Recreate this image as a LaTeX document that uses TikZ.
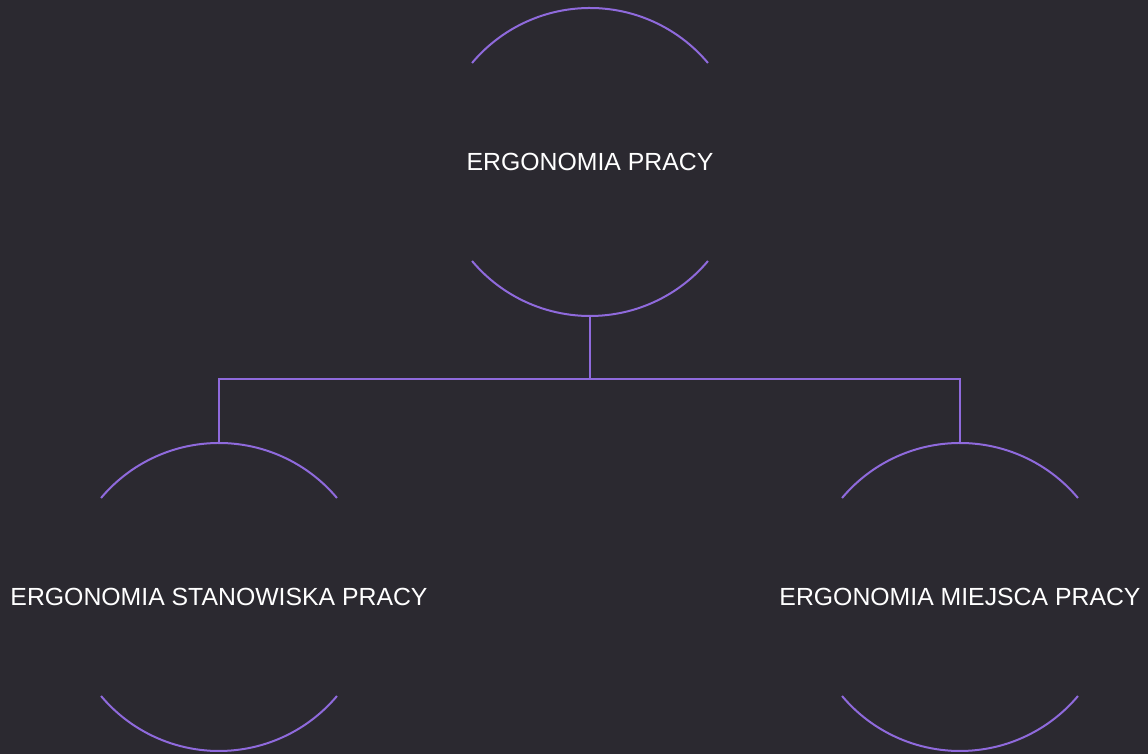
\documentclass[tikz,border=0pt]{standalone}
\usepackage{fontspec}
\setmainfont{Liberation Sans}
\usetikzlibrary{positioning, calc}

\definecolor{bgdark}{RGB}{43,41,48}
\definecolor{ringpurple}{RGB}{143,106,220}

\begin{document}
\begin{tikzpicture}[
    x=1pt, y=1pt,
    topic/.style={inner sep=0pt, text=white,
                  font=\fontsize{24.8}{29}\selectfont},
    ring/.style={draw=ringpurple, line width=2pt},
    link/.style={draw=ringpurple, line width=2pt}
  ]

  % background
  \fill[bgdark] (0,0) rectangle (1148,754);
  \useasboundingbox (0,0) rectangle (1148,754);

  % Topics
  \node[topic] (root) at (590,592) {ERGONOMIA PRACY};
  \node[topic] (stan) at (219,157) {ERGONOMIA STANOWISKA PRACY};
  \node[topic] (miejsce) at (960,157) {ERGONOMIA MIEJSCA PRACY};

  % Open rings round each topic
  \foreach \n in {root, stan, miejsce} {
    \draw[ring] ([shift={(40:154)}]\n.center) arc[start angle=40, end angle=140, radius=154];
    \draw[ring] ([shift={(220:154)}]\n.center) arc[start angle=220, end angle=320, radius=154];
  }

  % Ring ends for the links
  \coordinate[below=154pt of root.center] (root-s);
  \coordinate[above=154pt of stan.center] (stan-n);
  \coordinate[above=154pt of miejsce.center] (miejsce-n);

  % Links
  \draw[link] (root-s) -- ++(0,-63) coordinate (fork);
  \draw[link] (fork) -| (stan-n);
  \draw[link] (fork) -| (miejsce-n);

\end{tikzpicture}
\end{document}
